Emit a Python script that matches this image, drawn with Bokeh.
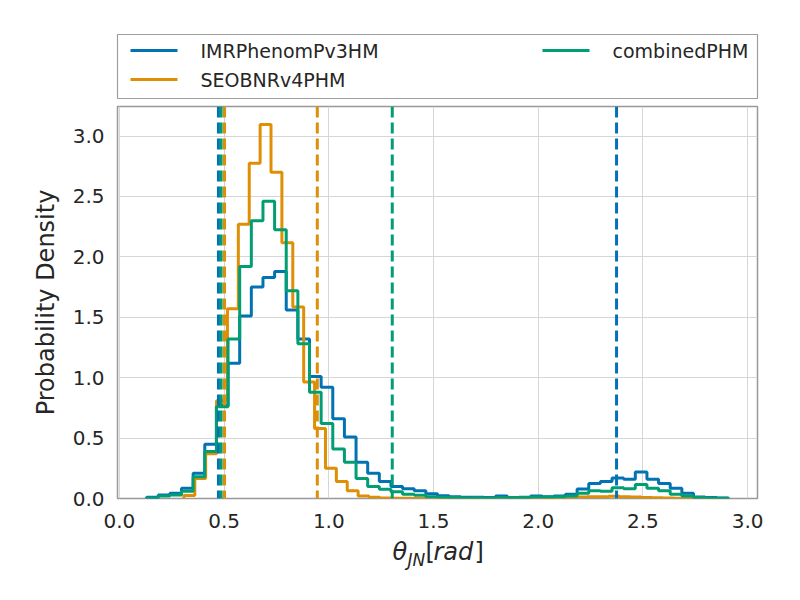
import numpy as np
from bokeh.plotting import figure
from bokeh.layouts import column
from bokeh.models import Range1d, Span, FixedTicker, PrintfTickFormatter
from bokeh.core.properties import value
from bokeh.embed import file_html
from bokeh.resources import INLINE

# ---------------- data ----------------
n_bins = 50
imr_range = (0.130, 2.908)
seob_range = (0.308, 2.908)
comb_range = (0.130, 2.908)

imr_density = [0.01, 0.03, 0.043, 0.084, 0.21, 0.45, 0.77, 1.12, 1.51, 1.75,
               1.83, 1.88, 1.56, 1.32, 1.01, 0.92, 0.66, 0.51, 0.30, 0.21,
               0.14, 0.10, 0.08, 0.065, 0.04, 0.023, 0.015, 0.01, 0.01, 0.008,
               0.02, 0.008, 0.01, 0.02, 0.015, 0.02, 0.035, 0.078, 0.125, 0.14,
               0.17, 0.16, 0.22, 0.16, 0.125, 0.084, 0.043, 0.012, 0.008, 0.004]

seob_density = [0.025, 0.165, 0.37, 0.81, 1.57, 2.27, 2.775, 3.095, 2.70, 2.117,
                1.585, 0.965, 0.58, 0.25, 0.14, 0.065, 0.02, 0.01, 0.005, 0.002,
                0.002, 0.001, 0.0, 0.001, 0.0, 0.0, 0.0, 0.001, 0.001, 0.002,
                0.003, 0.004, 0.005, 0.006, 0.008, 0.01, 0.012, 0.015, 0.015, 0.018,
                0.015, 0.012, 0.008, 0.006, 0.004, 0.003, 0.002, 0.001, 0.001, 0.0]

comb_density = [0.005, 0.02, 0.03, 0.06, 0.18, 0.39, 0.76, 1.32, 1.92, 2.30,
                2.46, 2.225, 1.72, 1.28, 0.88, 0.62, 0.41, 0.30, 0.165, 0.10,
                0.076, 0.056, 0.036, 0.026, 0.015, 0.01, 0.008, 0.005, 0.006, 0.005,
                0.008, 0.006, 0.008, 0.012, 0.012, 0.015, 0.02, 0.043, 0.065, 0.06,
                0.09, 0.08, 0.115, 0.085, 0.065, 0.035, 0.02, 0.008, 0.005, 0.003]

imr_ci = [0.473, 2.374]
seob_ci = [0.502, 0.945]
comb_ci = [0.486, 1.303]

series_labels = ["IMRPhenomPv3HM", "SEOBNRv4PHM", "combinedPHM"]
x_ticks = [0.0, 0.5, 1.0, 1.5, 2.0, 2.5, 3.0]
y_ticks = [0.0, 0.5, 1.0, 1.5, 2.0, 2.5, 3.0]
y_label = "Probability Density"

# ---------------- style ----------------
FONT = "DejaVu Sans"
TXT = "#262626"
C_BLUE, C_ORANGE, C_GREEN = "#0173B2", "#DE8F05", "#029E73"
X0, X1 = -0.009, 3.047
Y0, Y1 = 0.0, 3.245
W = 792
LEFT, RIGHT = 117, 35
LW = 3.0


def step_outline(rng, dens):
    edges = np.linspace(rng[0], rng[1], len(dens) + 1)
    xs = np.repeat(edges, 2)
    ys = np.concatenate([[0.0], np.repeat(np.asarray(dens, float), 2), [0.0]])
    return xs, ys


def bare(fig):
    fig.axis.visible = False
    fig.xgrid.visible = False
    fig.ygrid.visible = False
    fig.background_fill_color = "white"
    fig.border_fill_color = "white"


# ---------------- legend strip (frame = legend box) ----------------
pl = figure(width=W, height=102, output_backend="svg", toolbar_location=None,
            x_range=Range1d(0, 640), y_range=Range1d(64, 0),
            min_border_left=LEFT, min_border_right=RIGHT,
            min_border_top=34, min_border_bottom=4)
bare(pl)
pl.outline_line_color = "#9e9e9e"
pl.outline_line_width = 1.2
leg_colors = [C_BLUE, C_ORANGE, C_GREEN]
leg_x0 = [13, 13, 425]
leg_row = [16, 45, 16]
for lab, col, x0, yr in zip(series_labels, leg_colors, leg_x0, leg_row):
    pl.segment(x0=[x0], y0=[yr], x1=[x0 + 47], y1=[yr], line_color=col,
               line_width=LW)
    pl.text(x=[x0 + 70], y=[yr], text=[lab], text_font=value(FONT),
            text_font_size="19px", text_color=TXT, text_align="left",
            text_baseline="middle")

# ---------------- main plot ----------------
p = figure(width=W, height=436, output_backend="svg", toolbar_location=None,
           x_range=Range1d(X0, X1), y_range=Range1d(Y0, Y1),
           min_border_left=LEFT, min_border_right=RIGHT,
           min_border_top=4, min_border_bottom=40)
p.background_fill_color = "white"
p.border_fill_color = "white"
p.outline_line_color = "#999999"
p.outline_line_width = 1.5

xs, ys = step_outline(imr_range, imr_density)
p.line(xs, ys, line_color=C_BLUE, line_width=LW)
xs, ys = step_outline(seob_range, seob_density)
p.line(xs, ys, line_color=C_ORANGE, line_width=LW)
xs, ys = step_outline(comb_range, comb_density)
p.line(xs, ys, line_color=C_GREEN, line_width=LW)

for ci, col in ((imr_ci, C_BLUE), (seob_ci, C_ORANGE), (comb_ci, C_GREEN)):
    for v in ci:
        p.add_layout(Span(location=v, dimension="height", line_color=col,
                          line_width=3, line_dash="11 5"))

for ax, ticks in ((p.xaxis, x_ticks), (p.yaxis, y_ticks)):
    ax.ticker = FixedTicker(ticks=ticks)
    ax.formatter = PrintfTickFormatter(format="%.1f")
    ax.axis_line_color = None
    ax.major_tick_line_color = None
    ax.minor_tick_line_color = None
    ax.major_tick_in = 0
    ax.major_tick_out = 0
    ax.major_label_text_font = FONT
    ax.major_label_text_font_size = "20px"
    ax.major_label_text_color = TXT
p.xaxis.major_label_standoff = 15
p.yaxis.major_label_standoff = 13
p.yaxis.axis_label = y_label
p.yaxis.axis_label_text_font = FONT
p.yaxis.axis_label_text_font_size = "24px"
p.yaxis.axis_label_text_font_style = "normal"
p.yaxis.axis_label_text_color = TXT
p.yaxis.axis_label_standoff = 10

p.xgrid.grid_line_color = "#d6d6d6"
p.ygrid.grid_line_color = "#d6d6d6"

# ---------------- x-axis label strip: theta_{JN}[rad] ----------------
px = figure(width=W, height=54, output_backend="svg", toolbar_location=None,
            x_range=Range1d(0, 640), y_range=Range1d(54, 0),
            min_border_left=LEFT, min_border_right=RIGHT,
            min_border_top=0, min_border_bottom=0)
bare(px)
px.outline_line_color = None
pieces = [("θ", 275, 13, "24px", "italic"),
          ("JN", 290, 21, "17px", "italic"),
          ("[", 308, 13, "24px", "normal"),
          ("rad", 316, 13, "24px", "italic"),
          ("]", 357, 13, "24px", "normal")]
for t, x, y, size, style in pieces:
    px.text(x=[x], y=[y], text=[t], text_font=value(FONT),
            text_font_size=size, text_font_style=style, text_color=TXT,
            text_align="left", text_baseline="middle")

layout = column(pl, p, px, spacing=0)
open("out.html", "w").write(file_html(layout, INLINE))
